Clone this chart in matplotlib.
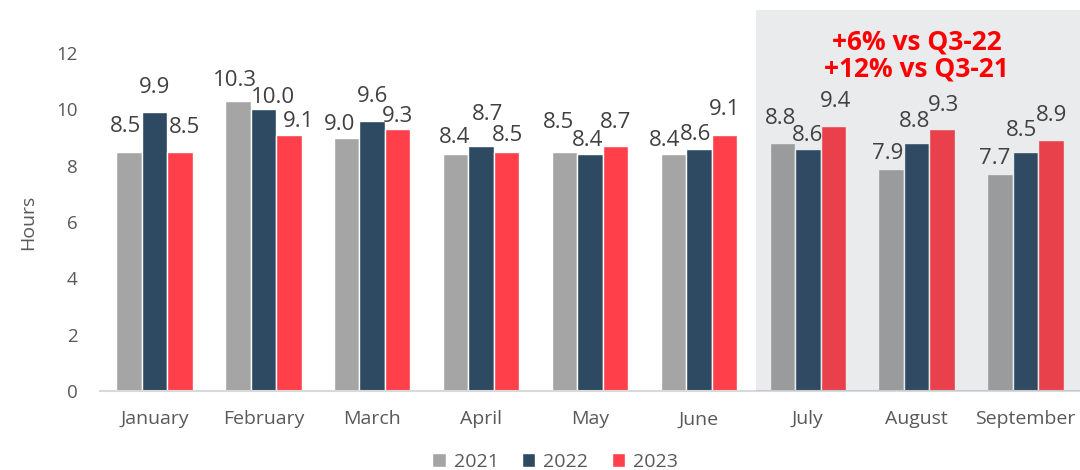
import matplotlib
matplotlib.use("Agg")
import matplotlib.pyplot as plt
from matplotlib.patches import Rectangle
import numpy as np

months = ["January", "February", "March", "April", "May", "June", "July", "August", "September"]
v2021 = [8.5, 10.3, 9.0, 8.4, 8.5, 8.4, 8.8, 7.9, 7.7]
v2022 = [9.9, 10.0, 9.6, 8.7, 8.4, 8.6, 8.6, 8.8, 8.5]
v2023 = [8.5, 9.1, 9.3, 8.5, 8.7, 9.1, 9.4, 9.3, 8.9]
series_labels = ["2021", "2022", "2023"]
colors = ["#A5A5A5", "#2E4A62", "#FF404A"]
yticks = [0, 2, 4, 6, 8, 10, 12]
note = "+6% vs Q3-22\n+12% vs Q3-21"

# data-label placement tweaks (pixels: horizontal shift, label centre above bar top)
lab_dx = [[-3, -3, -7, -1, -6, -9, -2, -4, -5],
          [0, 10, 0, 6, -2, -3, 0, -2, -4],
          [5, 10, 0, 1, 0, 0, 2, 1, 1]]
lab_dy = [[25, 20, 13, 17, 29, 14, 25, 15, 16],
          [25, 12, 24, 32, 14, 14, 13, 22, 21],
          [24, 13, 13, 16, 24, 25, 25, 24, 25]]

plt.rcParams['font.family'] = ['Open Sans', 'DejaVu Sans']
fig = plt.figure(figsize=(10.8, 4.7), dpi=100)
ax = fig.add_axes([0.0926, 0.168, 0.9074, 0.719])

x = np.arange(len(months))
w = 0.234
tc = "#595959"
handles = []
for i, (vals, lab, c) in enumerate(zip([v2021, v2022, v2023], series_labels, colors)):
    bars = ax.bar(x + (i - 1) * w, vals, width=w, color=c, edgecolor="white",
                  linewidth=1.0, label=lab, zorder=2)
    handles.append(bars)
    for j, (xi, v) in enumerate(zip(x + (i - 1) * w, vals)):
        ax.annotate(f"{v:.1f}", xy=(xi, v), xytext=(lab_dx[i][j], lab_dy[i][j]),
                    textcoords="offset pixels", ha="center", va="center",
                    fontsize=16, color="#404040", zorder=5)

ax.set_xlim(-0.5, len(months) - 0.5)
ax.set_ylim(0, 12)
ax.set_yticks(yticks)
ax.set_xticks(x)
ax.set_xticklabels(months)
ax.tick_params(axis="both", length=0, colors=tc)
ax.tick_params(axis="x", pad=14, labelsize=14)
ax.tick_params(axis="y", pad=16, labelsize=13.5)
for s in ["top", "right", "left"]:
    ax.spines[s].set_visible(False)
ax.spines["bottom"].set_color("#D9D9D9")
ax.spines["bottom"].set_linewidth(1.5)
ax.set_ylabel("Hours", fontsize=14, color=tc, labelpad=14)

# highlight box for Q3
rect = Rectangle((5.524, 0), 3.0, 13.52, transform=ax.transData, facecolor="#3C5064",
                 alpha=0.11, edgecolor="none", clip_on=False, zorder=3)
ax.add_patch(rect)
ax.text(7.0, 10.95, note, ha="center", va="bottom", fontsize=19, fontweight="bold",
        color="#FF0000", linespacing=1.02, zorder=6)

fig.legend(handles=handles, labels=series_labels, loc="center",
           bbox_to_anchor=(555 / 1080, 0.018), ncol=3, frameon=False,
           fontsize=14, labelcolor=tc, handlelength=0.7, handleheight=0.7,
           handletextpad=0.4, columnspacing=1.2)

fig.savefig("out.png", dpi=100)
